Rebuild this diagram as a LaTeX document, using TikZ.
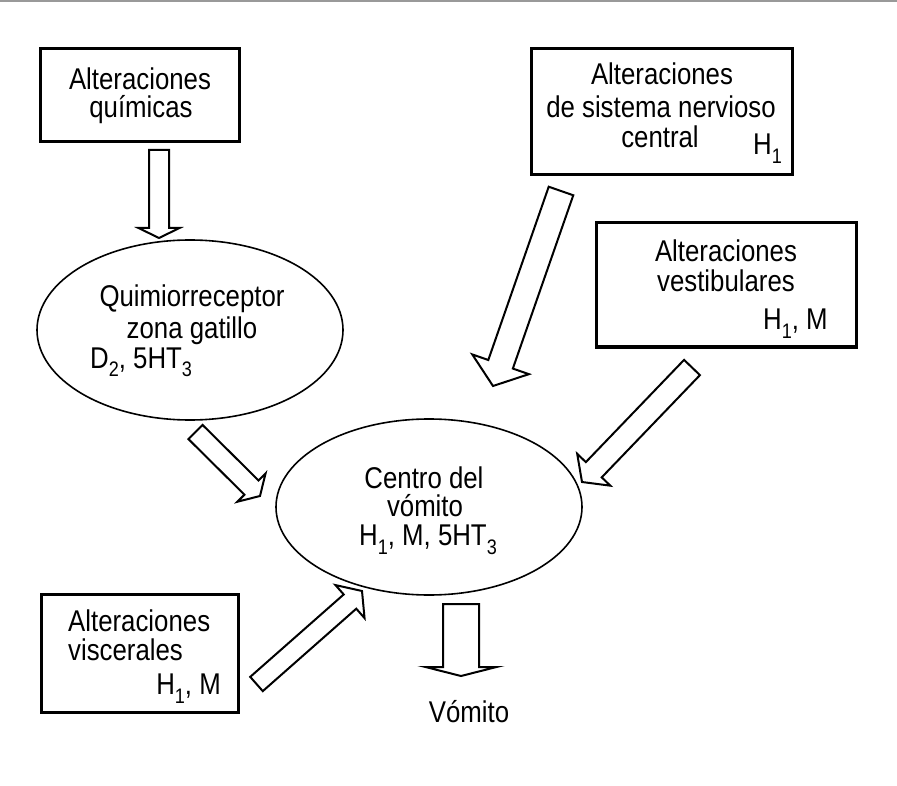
\documentclass[tikz,border=0pt]{standalone}
\usepackage{fontspec}
\setmainfont{Liberation Sans}[FakeStretch=0.86]
\usetikzlibrary{calc,shapes.geometric}
\newcommand\sbs[1]{\raisebox{-0.3em}{\fontsize{21}{21}\selectfont #1}}
\newcommand\blockarrow[5]{%
  \coordinate (hb) at ($(#2)!#5!(#1)$);
  \draw[barrowst] ($(#1)!#3!90:(#2)$) -- ($(hb)!#3!90:(#2)$) -- ($(hb)!#4!90:(#2)$) -- (#2)
     -- ($(hb)!#4!-90:(#2)$) -- ($(hb)!#3!-90:(#2)$) -- ($(#1)!#3!-90:(#2)$) -- cycle;
}
\tikzset{
  box/.style={draw, line width=3pt, rectangle, inner sep=0pt},
  oval/.style={draw, line width=1.6pt, ellipse, inner sep=0pt},
  lbl/.style={anchor=base, inner sep=0pt, font=\fontsize{30}{32}\selectfont},
  barrowst/.style={draw, line width=2pt, fill=white, line join=miter},
}
\begin{document}
\begin{tikzpicture}[x=1pt, y=-1pt]
\useasboundingbox (0,0) rectangle (897,786);
\fill[white] (0,0) rectangle (897,786);
\draw[black!40, line width=1.5pt] (0,1) -- (897,1);

% boxes and ellipses
\node[box, minimum width=199, minimum height=93] (b1) at (139.5,95.5) {};
\node[box, minimum width=261, minimum height=126] (b2) at (661.5,112) {};
\node[box, minimum width=260, minimum height=124] (b3) at (726,285) {};
\node[box, minimum width=197, minimum height=118] (b4) at (140,653) {};
\node[oval, minimum width=306, minimum height=180] (e1) at (190,330) {};
\node[oval, minimum width=306, minimum height=176] (e2) at (429,507) {};

% texts
\node[lbl] (t11) at (140,90) {Alteraciones};
\node[lbl] (t12) at (141,118) {químicas};
\node[lbl] (t21) at (662,85) {Alteraciones};
\node[lbl] (t22) at (661,118) {de sistema nervioso};
\node[lbl] (t23) at (660,148) {central};
\node[lbl, anchor=base west] (t24) at (753,155) {H\sbs{1}};
\node[lbl] (t31) at (726,262) {Alteraciones};
\node[lbl] (t32) at (726,292) {vestibulares};
\node[lbl, anchor=base west] (t33) at (763,330) {H\sbs{1}, M};
\node[lbl, anchor=base west] (t41) at (68,631) {Alteraciones};
\node[lbl, anchor=base west] (t42) at (68,660) {viscerales};
\node[lbl, anchor=base east] (t43) at (221,694) {H\sbs{1}, M};
\node[lbl] (t51) at (192,307) {Quimiorreceptor};
\node[lbl] (t52) at (192,338) {zona gatillo};
\node[lbl, anchor=base west] (t53) at (90,368) {D\sbs{2}, 5HT\sbs{3}};
\node[lbl] (t61) at (424,488) {Centro del};
\node[lbl] (t62) at (425,516) {vómito};
\node[lbl] (t63) at (428,545) {H\sbs{1}, M, 5HT\sbs{3}};
\node[lbl] (t7) at (469,722) {Vómito};

% arrow end points
\coordinate (a1s) at (159,150);   \coordinate (a1t) at (159,238);
\coordinate (a2s) at (561,191);   \coordinate (a2t) at (493,386);
\coordinate (a3s) at (692,367.5); \coordinate (a3t) at (582,482);
\coordinate (a4s) at (195.5,432); \coordinate (a4t) at (260,496);
\coordinate (a5s) at (256.5,684); \coordinate (a5t) at (362,591);
\coordinate (a6s) at (461,604);   \coordinate (a6t) at (461,676);

\blockarrow{a1s}{a1t}{10pt}{20.5pt}{10pt}
\blockarrow{a2s}{a2t}{13pt}{30pt}{23pt}
\blockarrow{a3s}{a3t}{11pt}{23pt}{17pt}
\blockarrow{a4s}{a4t}{10pt}{20pt}{12pt}
\blockarrow{a5s}{a5t}{9.5pt}{22pt}{16pt}
\blockarrow{a6s}{a6t}{18pt}{35.5pt}{9pt}
\end{tikzpicture}
\end{document}
